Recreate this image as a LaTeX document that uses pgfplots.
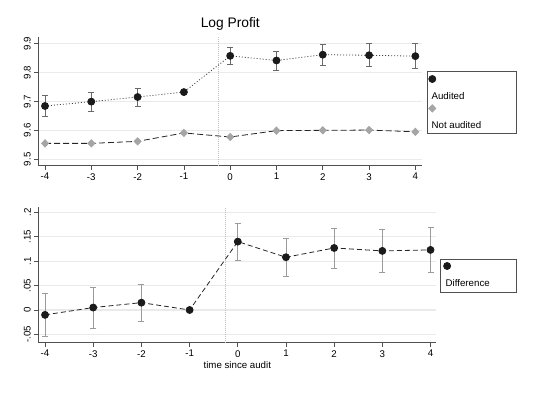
\documentclass[border=0pt]{standalone}
\usepackage{pgfplots}
\pgfplotsset{compat=1.18}
\usepackage{pgfplotstable}
\usepackage{fontspec}
\setmainfont{Liberation Sans}

\pgfplotstableread{
x y e
-4 9.684 0.035
-3 9.699 0.033
-2 9.715 0.031
-1 9.732 0
0 9.857 0.030
1 9.841 0.033
2 9.861 0.036
3 9.859 0.040
4 9.856 0.043
}\audited
\pgfplotstableread{
x y
-4 9.555
-3 9.555
-2 9.562
-1 9.591
0 9.577
1 9.599
2 9.600
3 9.601
4 9.595
}\notaudited
\pgfplotstableread{
x y e
-4 -0.010 0.044
-3 0.005 0.042
-2 0.015 0.038
-1 0.000 0
0 0.140 0.038
1 0.108 0.039
2 0.127 0.041
3 0.121 0.045
4 0.123 0.047
}\difference

\definecolor{mkdark}{RGB}{26,26,26}
\definecolor{mkgray}{RGB}{165,165,165}
\definecolor{errdark}{RGB}{105,105,105}
\definecolor{errlight}{RGB}{155,155,155}
\definecolor{gridgray}{RGB}{234,234,234}
\definecolor{axgray}{RGB}{80,80,80}

\newcommand{\lblfont}{\fontsize{9.7}{11}\selectfont}

\pgfplotsset{
  mystyle/.style={
    scale only axis,
    axis x line*=bottom, axis y line*=left,
    axis line style={axgray, line width=0.7pt},
    xtick={-4,-3,-2,-1,0,1,2,3,4},
    xticklabels={-4,-3,-2,-1,0,1,2,3,4},
    tick align=outside,
    major tick length=4pt,
    tick style={axgray, line width=0.6pt},
    ymajorgrids,
    grid style={gridgray, line width=1.2pt},
    tick label style={font=\lblfont},
    yticklabel style={rotate=90, anchor=south},
    clip=false,
    legend style={draw=axgray, line width=0.6pt, anchor=north west,
      row sep=0pt, column sep=0pt, nodes={inner sep=0pt}, font=\lblfont},
  },
  myerr/.style={
    error bars/.cd, y dir=both, y explicit,
    error bar style={#1, line width=0.8pt, solid},
    error mark options={#1, line width=0.8pt, mark size=3pt, solid, rotate=90},
  },
  markleg/.style 2 args={legend image code/.code={\draw[##1] plot coordinates {(0pt,0pt)}; \path (0pt,-#1) (0pt,#2);}},
  textleg/.style n args={4}{legend image code/.code={\node[anchor=base west, inner sep=0pt, font=\lblfont] at (#1,-3.45pt) {#2}; \path (0pt,-#3) (0pt,#4);}},
}

\begin{document}
\begin{tikzpicture}
\path[use as bounding box] (0pt,0pt) rectangle (539pt,392pt);

% ---------------- top panel ----------------
\begin{axis}[mystyle,
  at={(38.3pt,226.3pt)}, anchor=south west,
  width=384pt, height=128.4pt,
  xmin=-4.145, xmax=4.15, ymin=9.478, ymax=9.921,
  ytick={9.5,9.6,9.7,9.8,9.9},
  yticklabels={9.5,9.6,9.7,9.8,9.9},
  title={Log Profit},
  title style={font=\fontsize{13.8}{15}\selectfont, at={(0.5,1)}, anchor=base, yshift=4pt},
  legend style={at={(1.0122,0.7375)}, inner xsep=1.5pt, inner ysep=0.3pt},
]
\addplot[forget plot, black!25, line width=0.6pt, dash pattern=on 0.8pt off 1.2pt]
  coordinates {(-0.25,9.478) (-0.25,9.921)};

\addplot[black!75, line width=0.8pt, dash pattern=on 1pt off 2pt,
  mark=*, mark size=3.5pt, mark options={solid, fill=mkdark, draw=mkdark},
  markleg={9pt}{7pt},
  myerr=errdark]
  table[x=x, y=y, y error=e] {\audited};
\addlegendentry{\hspace*{33.9pt}}
\addlegendimage{textleg={-1pt}{Audited}{5pt}{7pt}}
\addlegendentry{\mbox{}}

\addplot[black!85, line width=0.8pt, dash pattern=on 6pt off 3pt,
  mark=diamond*, mark size=3.6pt, mark options={solid, fill=mkgray, draw=mkgray, xscale=1.3},
  markleg={9pt}{7pt}]
  table[x=x, y=y] {\notaudited};
\addlegendentry{\mbox{}}
\addlegendimage{textleg={-1pt}{Not audited}{7.4pt}{7pt}}
\addlegendentry{\mbox{}}
\end{axis}

% ---------------- bottom panel ----------------
\begin{axis}[mystyle,
  at={(38.3pt,49.3pt)}, anchor=south west,
  width=398pt, height=136pt,
  xmin=-4.14, xmax=4.12, ymin=-0.067, ymax=0.2115,
  ytick={-0.05,0,0.05,0.1,0.15,0.2},
  yticklabels={-.05,0,.05,.1,.15,.2},
  xlabel={time since audit},
  xlabel style={font=\lblfont, at={(0.5,0)}, anchor=base, yshift=-25.8pt},
  legend style={at={(1.0101,0.6132)}, inner xsep=3pt, inner ysep=0.5pt},
]
\addplot[forget plot, black!25, line width=0.6pt, dash pattern=on 0.8pt off 1.2pt]
  coordinates {(-0.25,-0.067) (-0.25,0.2115)};

\addplot[black!85, line width=0.8pt, dash pattern=on 5pt off 3pt,
  mark=*, mark size=3.5pt, mark options={solid, fill=mkdark, draw=mkdark},
  markleg={9.4pt}{5.5pt},
  myerr=errlight]
  table[x=x, y=y, y error=e] {\difference};
\addlegendentry{\hspace*{23.5pt}}
\addlegendimage{textleg={-1.7pt}{Difference}{8pt}{7pt}}
\addlegendentry{\mbox{}}
\end{axis}
\end{tikzpicture}
\end{document}
